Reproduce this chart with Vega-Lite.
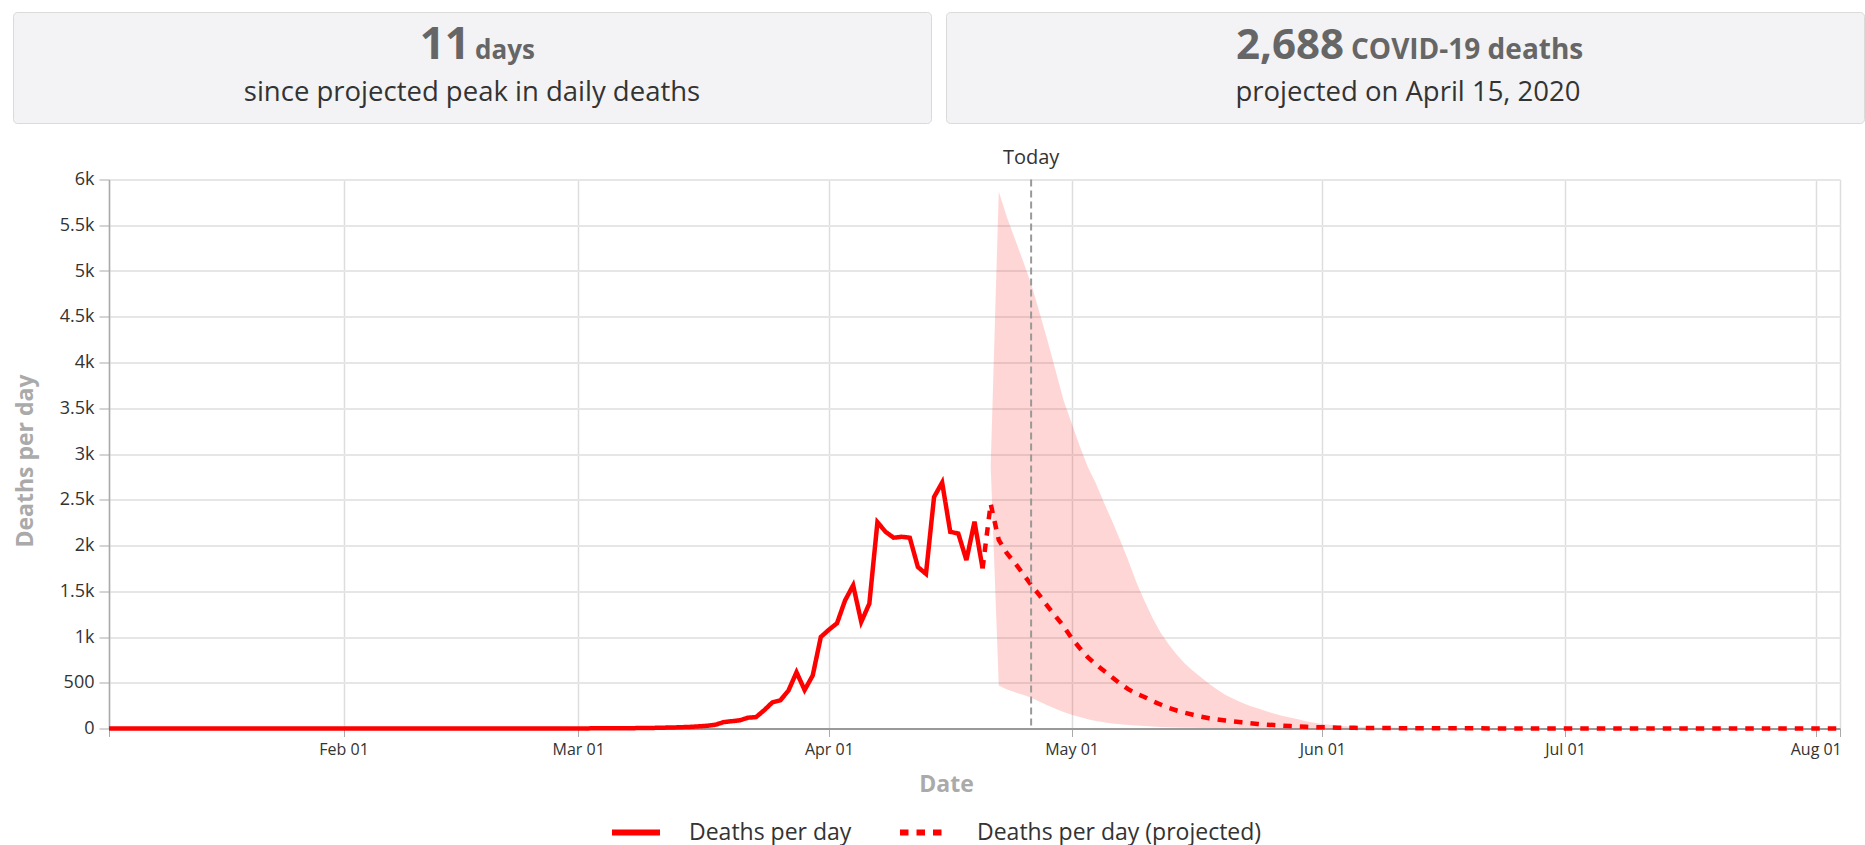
{
  "$schema": "https://vega.github.io/schema/vega-lite/v6.json",
  "background": "#ffffff",
  "padding": {"left": 12, "top": 11, "right": 4, "bottom": 4},
  "config": {
    "font": "Open Sans",
    "view": {"stroke": null},
    "axis": {"labelFont": "Open Sans", "labelFontSize": 16, "labelColor": "#333333", "titleFont": "Open Sans", "titleFontSize": 23, "titleFontWeight": "bold", "titleColor": "#aaaaaa", "domainColor": "#aaaaaa", "tickColor": "#aaaaaa", "gridColor": "#e6e6e6"},
    "text": {"font": "Open Sans"}
  },
  "datasets": {
    "deaths": [
      {"date": "2020-01-03", "deaths": 0, "series": "Deaths per day"},
      {"date": "2020-01-10", "deaths": 0, "series": "Deaths per day"},
      {"date": "2020-01-17", "deaths": 0, "series": "Deaths per day"},
      {"date": "2020-01-24", "deaths": 0, "series": "Deaths per day"},
      {"date": "2020-01-31", "deaths": 0, "series": "Deaths per day"},
      {"date": "2020-02-07", "deaths": 0, "series": "Deaths per day"},
      {"date": "2020-02-14", "deaths": 0, "series": "Deaths per day"},
      {"date": "2020-02-21", "deaths": 0, "series": "Deaths per day"},
      {"date": "2020-02-28", "deaths": 0, "series": "Deaths per day"},
      {"date": "2020-03-01", "deaths": 1, "series": "Deaths per day"},
      {"date": "2020-03-02", "deaths": 1, "series": "Deaths per day"},
      {"date": "2020-03-03", "deaths": 2, "series": "Deaths per day"},
      {"date": "2020-03-04", "deaths": 2, "series": "Deaths per day"},
      {"date": "2020-03-05", "deaths": 3, "series": "Deaths per day"},
      {"date": "2020-03-06", "deaths": 3, "series": "Deaths per day"},
      {"date": "2020-03-07", "deaths": 4, "series": "Deaths per day"},
      {"date": "2020-03-08", "deaths": 4, "series": "Deaths per day"},
      {"date": "2020-03-09", "deaths": 5, "series": "Deaths per day"},
      {"date": "2020-03-10", "deaths": 6, "series": "Deaths per day"},
      {"date": "2020-03-11", "deaths": 8, "series": "Deaths per day"},
      {"date": "2020-03-12", "deaths": 10, "series": "Deaths per day"},
      {"date": "2020-03-13", "deaths": 12, "series": "Deaths per day"},
      {"date": "2020-03-14", "deaths": 15, "series": "Deaths per day"},
      {"date": "2020-03-15", "deaths": 18, "series": "Deaths per day"},
      {"date": "2020-03-16", "deaths": 24, "series": "Deaths per day"},
      {"date": "2020-03-17", "deaths": 30, "series": "Deaths per day"},
      {"date": "2020-03-18", "deaths": 42, "series": "Deaths per day"},
      {"date": "2020-03-19", "deaths": 70, "series": "Deaths per day"},
      {"date": "2020-03-20", "deaths": 80, "series": "Deaths per day"},
      {"date": "2020-03-21", "deaths": 90, "series": "Deaths per day"},
      {"date": "2020-03-22", "deaths": 118, "series": "Deaths per day"},
      {"date": "2020-03-23", "deaths": 125, "series": "Deaths per day"},
      {"date": "2020-03-24", "deaths": 200, "series": "Deaths per day"},
      {"date": "2020-03-25", "deaths": 285, "series": "Deaths per day"},
      {"date": "2020-03-26", "deaths": 308, "series": "Deaths per day"},
      {"date": "2020-03-27", "deaths": 415, "series": "Deaths per day"},
      {"date": "2020-03-28", "deaths": 615, "series": "Deaths per day"},
      {"date": "2020-03-29", "deaths": 420, "series": "Deaths per day"},
      {"date": "2020-03-30", "deaths": 580, "series": "Deaths per day"},
      {"date": "2020-03-31", "deaths": 1000, "series": "Deaths per day"},
      {"date": "2020-04-01", "deaths": 1080, "series": "Deaths per day"},
      {"date": "2020-04-02", "deaths": 1150, "series": "Deaths per day"},
      {"date": "2020-04-03", "deaths": 1400, "series": "Deaths per day"},
      {"date": "2020-04-04", "deaths": 1565, "series": "Deaths per day"},
      {"date": "2020-04-05", "deaths": 1165, "series": "Deaths per day"},
      {"date": "2020-04-06", "deaths": 1365, "series": "Deaths per day"},
      {"date": "2020-04-07", "deaths": 2255, "series": "Deaths per day"},
      {"date": "2020-04-08", "deaths": 2150, "series": "Deaths per day"},
      {"date": "2020-04-09", "deaths": 2085, "series": "Deaths per day"},
      {"date": "2020-04-10", "deaths": 2095, "series": "Deaths per day"},
      {"date": "2020-04-11", "deaths": 2085, "series": "Deaths per day"},
      {"date": "2020-04-12", "deaths": 1765, "series": "Deaths per day"},
      {"date": "2020-04-13", "deaths": 1690, "series": "Deaths per day"},
      {"date": "2020-04-14", "deaths": 2530, "series": "Deaths per day"},
      {"date": "2020-04-15", "deaths": 2688, "series": "Deaths per day"},
      {"date": "2020-04-16", "deaths": 2150, "series": "Deaths per day"},
      {"date": "2020-04-17", "deaths": 2130, "series": "Deaths per day"},
      {"date": "2020-04-18", "deaths": 1840, "series": "Deaths per day"},
      {"date": "2020-04-19", "deaths": 2260, "series": "Deaths per day"},
      {"date": "2020-04-20", "deaths": 1750, "series": "Deaths per day"},
      {"date": "2020-04-20", "deaths": 1750, "series": "Deaths per day (projected)"},
      {"date": "2020-04-21", "deaths": 2455, "series": "Deaths per day (projected)"},
      {"date": "2020-04-22", "deaths": 2060, "series": "Deaths per day (projected)"},
      {"date": "2020-04-23", "deaths": 1915, "series": "Deaths per day (projected)"},
      {"date": "2020-04-24", "deaths": 1810, "series": "Deaths per day (projected)"},
      {"date": "2020-04-25", "deaths": 1690, "series": "Deaths per day (projected)"},
      {"date": "2020-04-26", "deaths": 1570, "series": "Deaths per day (projected)"},
      {"date": "2020-04-27", "deaths": 1460, "series": "Deaths per day (projected)"},
      {"date": "2020-04-28", "deaths": 1340, "series": "Deaths per day (projected)"},
      {"date": "2020-04-29", "deaths": 1230, "series": "Deaths per day (projected)"},
      {"date": "2020-04-30", "deaths": 1120, "series": "Deaths per day (projected)"},
      {"date": "2020-05-01", "deaths": 990, "series": "Deaths per day (projected)"},
      {"date": "2020-05-02", "deaths": 880, "series": "Deaths per day (projected)"},
      {"date": "2020-05-03", "deaths": 780, "series": "Deaths per day (projected)"},
      {"date": "2020-05-04", "deaths": 700, "series": "Deaths per day (projected)"},
      {"date": "2020-05-05", "deaths": 630, "series": "Deaths per day (projected)"},
      {"date": "2020-05-06", "deaths": 560, "series": "Deaths per day (projected)"},
      {"date": "2020-05-07", "deaths": 490, "series": "Deaths per day (projected)"},
      {"date": "2020-05-08", "deaths": 430, "series": "Deaths per day (projected)"},
      {"date": "2020-05-09", "deaths": 380, "series": "Deaths per day (projected)"},
      {"date": "2020-05-10", "deaths": 345, "series": "Deaths per day (projected)"},
      {"date": "2020-05-11", "deaths": 300, "series": "Deaths per day (projected)"},
      {"date": "2020-05-12", "deaths": 262, "series": "Deaths per day (projected)"},
      {"date": "2020-05-13", "deaths": 225, "series": "Deaths per day (projected)"},
      {"date": "2020-05-14", "deaths": 197, "series": "Deaths per day (projected)"},
      {"date": "2020-05-15", "deaths": 172, "series": "Deaths per day (projected)"},
      {"date": "2020-05-16", "deaths": 150, "series": "Deaths per day (projected)"},
      {"date": "2020-05-17", "deaths": 130, "series": "Deaths per day (projected)"},
      {"date": "2020-05-18", "deaths": 112, "series": "Deaths per day (projected)"},
      {"date": "2020-05-19", "deaths": 100, "series": "Deaths per day (projected)"},
      {"date": "2020-05-20", "deaths": 88, "series": "Deaths per day (projected)"},
      {"date": "2020-05-21", "deaths": 78, "series": "Deaths per day (projected)"},
      {"date": "2020-05-22", "deaths": 68, "series": "Deaths per day (projected)"},
      {"date": "2020-05-23", "deaths": 58, "series": "Deaths per day (projected)"},
      {"date": "2020-05-24", "deaths": 50, "series": "Deaths per day (projected)"},
      {"date": "2020-05-25", "deaths": 43, "series": "Deaths per day (projected)"},
      {"date": "2020-05-26", "deaths": 37, "series": "Deaths per day (projected)"},
      {"date": "2020-05-27", "deaths": 31, "series": "Deaths per day (projected)"},
      {"date": "2020-05-28", "deaths": 26, "series": "Deaths per day (projected)"},
      {"date": "2020-05-29", "deaths": 22, "series": "Deaths per day (projected)"},
      {"date": "2020-05-30", "deaths": 18, "series": "Deaths per day (projected)"},
      {"date": "2020-05-31", "deaths": 15, "series": "Deaths per day (projected)"},
      {"date": "2020-06-01", "deaths": 13, "series": "Deaths per day (projected)"},
      {"date": "2020-06-03", "deaths": 9, "series": "Deaths per day (projected)"},
      {"date": "2020-06-05", "deaths": 7, "series": "Deaths per day (projected)"},
      {"date": "2020-06-08", "deaths": 5, "series": "Deaths per day (projected)"},
      {"date": "2020-06-12", "deaths": 3, "series": "Deaths per day (projected)"},
      {"date": "2020-06-17", "deaths": 2, "series": "Deaths per day (projected)"},
      {"date": "2020-06-24", "deaths": 1, "series": "Deaths per day (projected)"},
      {"date": "2020-07-01", "deaths": 1, "series": "Deaths per day (projected)"},
      {"date": "2020-07-10", "deaths": 0, "series": "Deaths per day (projected)"},
      {"date": "2020-07-20", "deaths": 0, "series": "Deaths per day (projected)"},
      {"date": "2020-08-01", "deaths": 0, "series": "Deaths per day (projected)"},
      {"date": "2020-08-04", "deaths": 0, "series": "Deaths per day (projected)"}
    ],
    "band": [
      {"date": "2020-04-21", "lower": 2870, "upper": 2870},
      {"date": "2020-04-22", "lower": 470, "upper": 5870},
      {"date": "2020-04-23", "lower": 425, "upper": 5590},
      {"date": "2020-04-24", "lower": 395, "upper": 5350},
      {"date": "2020-04-25", "lower": 370, "upper": 5110},
      {"date": "2020-04-26", "lower": 335, "upper": 4860},
      {"date": "2020-04-27", "lower": 295, "upper": 4560},
      {"date": "2020-04-28", "lower": 255, "upper": 4250},
      {"date": "2020-04-29", "lower": 215, "upper": 3920},
      {"date": "2020-04-30", "lower": 180, "upper": 3590},
      {"date": "2020-05-01", "lower": 150, "upper": 3340},
      {"date": "2020-05-02", "lower": 125, "upper": 3090},
      {"date": "2020-05-03", "lower": 100, "upper": 2860},
      {"date": "2020-05-04", "lower": 82, "upper": 2680},
      {"date": "2020-05-05", "lower": 68, "upper": 2470},
      {"date": "2020-05-06", "lower": 56, "upper": 2270},
      {"date": "2020-05-07", "lower": 46, "upper": 2060},
      {"date": "2020-05-08", "lower": 38, "upper": 1840},
      {"date": "2020-05-09", "lower": 32, "upper": 1600},
      {"date": "2020-05-10", "lower": 26, "upper": 1400},
      {"date": "2020-05-11", "lower": 21, "upper": 1210},
      {"date": "2020-05-12", "lower": 17, "upper": 1050},
      {"date": "2020-05-13", "lower": 14, "upper": 920},
      {"date": "2020-05-14", "lower": 11, "upper": 810},
      {"date": "2020-05-15", "lower": 9, "upper": 710},
      {"date": "2020-05-16", "lower": 7, "upper": 630},
      {"date": "2020-05-17", "lower": 6, "upper": 560},
      {"date": "2020-05-18", "lower": 5, "upper": 490},
      {"date": "2020-05-19", "lower": 4, "upper": 425},
      {"date": "2020-05-20", "lower": 3, "upper": 370},
      {"date": "2020-05-21", "lower": 3, "upper": 325},
      {"date": "2020-05-22", "lower": 2, "upper": 285},
      {"date": "2020-05-23", "lower": 2, "upper": 250},
      {"date": "2020-05-24", "lower": 1, "upper": 220},
      {"date": "2020-05-25", "lower": 1, "upper": 190},
      {"date": "2020-05-26", "lower": 1, "upper": 163},
      {"date": "2020-05-27", "lower": 1, "upper": 140},
      {"date": "2020-05-28", "lower": 0, "upper": 120},
      {"date": "2020-05-29", "lower": 0, "upper": 100},
      {"date": "2020-05-30", "lower": 0, "upper": 80},
      {"date": "2020-05-31", "lower": 0, "upper": 62},
      {"date": "2020-06-01", "lower": 0, "upper": 48},
      {"date": "2020-06-03", "lower": 0, "upper": 30},
      {"date": "2020-06-05", "lower": 0, "upper": 20},
      {"date": "2020-06-08", "lower": 0, "upper": 12},
      {"date": "2020-06-12", "lower": 0, "upper": 7},
      {"date": "2020-06-17", "lower": 0, "upper": 4},
      {"date": "2020-06-24", "lower": 0, "upper": 2},
      {"date": "2020-07-01", "lower": 0, "upper": 1},
      {"date": "2020-08-04", "lower": 0, "upper": 0}
    ],
    "card1": [{"big": "11", "unit": "days", "sub": "since projected peak in daily deaths"}],
    "card2": [{"big": "2,688", "unit": "COVID-19 deaths", "sub": "projected on April 15, 2020"}]
  },
  "vconcat": [
    {
      "hconcat": [
        {
          "width": 918, "height": 111,
          "view": {"fill": "#f3f3f5", "stroke": "#dadada", "cornerRadius": 4},
          "data": {"name": "card1"},
          "encoding": {
            "x": {"datum": 0, "type": "quantitative", "scale": {"domain": [-1, 1]}, "axis": null},
            "y": {"datum": 0, "type": "quantitative", "scale": {"domain": [-1, 1]}, "axis": null}
          },
          "layer": [
            {"mark": {"type": "text", "align": "right", "baseline": "alphabetic", "dx": -2, "dy": -9, "fontSize": 44, "fontWeight": "bold", "color": "#666666"}, "encoding": {"text": {"field": "big"}}},
            {"mark": {"type": "text", "align": "left", "baseline": "alphabetic", "dx": 3, "dy": -9, "fontSize": 26, "fontWeight": "bold", "color": "#666666"}, "encoding": {"text": {"field": "unit"}}},
            {"mark": {"type": "text", "align": "center", "baseline": "alphabetic", "dy": 33, "fontSize": 27.5, "color": "#333333"}, "encoding": {"text": {"field": "sub"}}}
          ]
        },
        {
          "width": 918, "height": 111,
          "view": {"fill": "#f3f3f5", "stroke": "#dadada", "cornerRadius": 4},
          "data": {"name": "card2"},
          "encoding": {
            "x": {"datum": 0, "type": "quantitative", "scale": {"domain": [-1, 1]}, "axis": null},
            "y": {"datum": 0, "type": "quantitative", "scale": {"domain": [-1, 1]}, "axis": null}
          },
          "layer": [
            {"mark": {"type": "text", "align": "right", "baseline": "alphabetic", "dx": -61, "dy": -9, "fontSize": 42, "fontWeight": "bold", "color": "#666666"}, "encoding": {"text": {"field": "big"}}},
            {"mark": {"type": "text", "align": "left", "baseline": "alphabetic", "dx": -54, "dy": -9, "fontSize": 28, "fontWeight": "bold", "color": "#666666"}, "encoding": {"text": {"field": "unit"}}},
            {"mark": {"type": "text", "align": "center", "baseline": "alphabetic", "dx": 3, "dy": 33, "fontSize": 27.5, "color": "#333333"}, "encoding": {"text": {"field": "sub"}}}
          ]
        }
      ],
      "spacing": 13
    },
    {
      "hconcat": [
        {
          "width": 1, "height": 549,
          "data": {"values": []},
          "mark": {"type": "text"}
        },
        {
          "width": 1731,
          "height": 549,
          "layer": [
            {
              "data": {"name": "band"},
              "mark": {"type": "area", "color": "#ff0000", "opacity": 0.16},
              "encoding": {
                "x": {
                  "field": "date", "type": "temporal",
                  "scale": {"type": "utc", "domain": [{"year": 2020, "month": 1, "date": 3, "utc": true}, {"year": 2020, "month": 8, "date": 4, "utc": true}]},
                  "axis": {
                    "title": "Date",
                    "values": [
                      {"year": 2020, "month": 1, "date": 3, "utc": true},
                      {"year": 2020, "month": 2, "date": 1, "utc": true},
                      {"year": 2020, "month": 3, "date": 1, "utc": true},
                      {"year": 2020, "month": 4, "date": 1, "utc": true},
                      {"year": 2020, "month": 5, "date": 1, "utc": true},
                      {"year": 2020, "month": 6, "date": 1, "utc": true},
                      {"year": 2020, "month": 7, "date": 1, "utc": true},
                      {"year": 2020, "month": 8, "date": 1, "utc": true},
                      {"year": 2020, "month": 8, "date": 4, "utc": true}
                    ],
                    "labelExpr": "(utcmonth(datum.value) == 0 && utcdate(datum.value) == 3) || (utcmonth(datum.value) == 7 && utcdate(datum.value) == 4) ? '' : utcFormat(datum.value, '%b %d')",
                    "tickSize": 8,
                    "labelPadding": 5,
                    "labelFlush": false,
                    "labelOverlap": false,
                    "gridColor": "#dddddd",
                    "gridWidth": 1.5,
                    "domainColor": "#999999",
                    "domainWidth": 2,
                    "titleX": 837,
                    "titleY": 56,
                    "titleBaseline": "middle",
                    "titleAlign": "center"
                  }
                },
                "y": {
                  "field": "lower", "type": "quantitative",
                  "scale": {"domain": [0, 6000], "nice": false},
                  "axis": {
                    "title": "Deaths per day",
                    "values": [0, 500, 1000, 1500, 2000, 2500, 3000, 3500, 4000, 4500, 5000, 5500, 6000],
                    "labelExpr": "format(datum.value, '~s')",
                    "labelFontSize": 18,
                    "tickSize": 10,
                    "labelPadding": 5,
                    "gridWidth": 2,
                    "gridColor": "#e6e6e6",
                    "domainWidth": 1.5,
                    "titleX": -84,
                    "titleY": 281,
                    "titleAngle": 270,
                    "titleBaseline": "middle",
                    "titleAlign": "center"
                  }
                },
                "y2": {"field": "upper"}
              }
            },
            {
              "data": {"name": "deaths"},
              "mark": {"type": "line", "strokeWidth": 4.5},
              "encoding": {
                "x": {"field": "date", "type": "temporal"},
                "y": {"field": "deaths", "type": "quantitative"},
                "color": {
                  "field": "series", "type": "nominal",
                  "scale": {"domain": ["Deaths per day", "Deaths per day (projected)"], "range": ["#ff0000", "#ff0000"]},
                  "legend": {"title": null, "orient": "none", "legendX": 500, "legendY": 626, "direction": "horizontal", "symbolType": "stroke", "symbolSize": 2304, "symbolStrokeWidth": 6, "labelFontSize": 23, "labelColor": "#333333", "labelFont": "Open Sans", "labelOffset": 26, "columnPadding": 36, "labelLimit": 400}
                },
                "strokeDash": {
                  "field": "series", "type": "nominal",
                  "scale": {"domain": ["Deaths per day", "Deaths per day (projected)"], "range": [[1, 0], [8.5, 8]]},
                  "legend": {"title": null, "orient": "none", "legendX": 500, "legendY": 626, "direction": "horizontal", "symbolType": "stroke", "symbolSize": 2304, "symbolStrokeWidth": 6, "labelFontSize": 23, "labelColor": "#333333", "labelFont": "Open Sans", "labelOffset": 26, "columnPadding": 36, "labelLimit": 400}
                }
              }
            },
            {
              "data": {"values": [{"date": "2020-04-26", "label": "Today"}]},
              "mark": {"type": "rule", "strokeDash": [7, 4], "color": "#999999", "strokeWidth": 2},
              "encoding": {"x": {"field": "date", "type": "temporal"}}
            },
            {
              "data": {"values": [{"date": "2020-04-26", "label": "Today"}]},
              "mark": {"type": "text", "baseline": "middle", "align": "center", "dy": -22, "fontSize": 20, "color": "#333333"},
              "encoding": {
                "x": {"field": "date", "type": "temporal"},
                "y": {"datum": 6000, "type": "quantitative"},
                "text": {"field": "label"}
              }
            }
          ]
        }
      ],
      "spacing": 0,
      "resolve": {
        "scale": {"color": "independent", "strokeDash": "independent"},
        "legend": {"color": "independent", "strokeDash": "independent"}
      }
    }
  ],
  "spacing": 23.5,
  "resolve": {
    "scale": {"color": "independent", "strokeDash": "independent"},
    "legend": {"color": "independent", "strokeDash": "independent"}
  }
}
